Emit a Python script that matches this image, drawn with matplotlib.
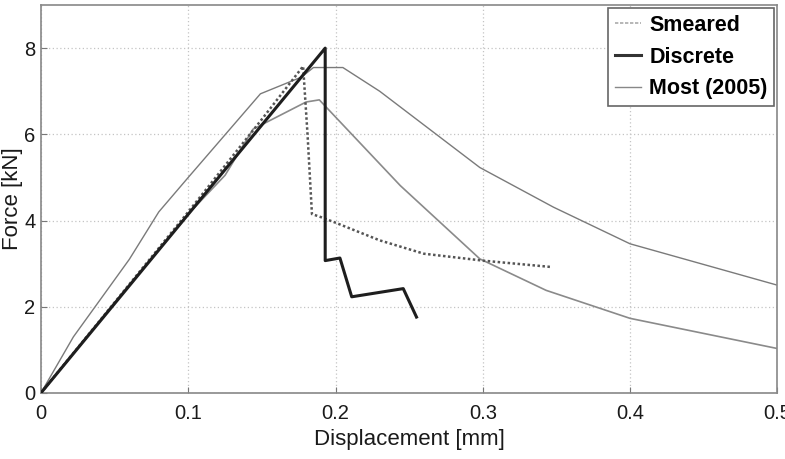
import matplotlib.pyplot as plt

# ── data ──────────────────────────────────────────────────────────────────────
smeared_x = [0.0, 0.05, 0.10, 0.15, 0.178, 0.181, 0.184, 0.19, 0.20, 0.23, 0.26, 0.30, 0.347]
smeared_y = [0.0, 2.10, 4.20, 6.35, 7.58, 6.00, 4.15, 4.08, 3.95, 3.54, 3.23, 3.07, 2.92]

discrete_x = [0.0, 0.193, 0.193, 0.203, 0.211, 0.246, 0.255]
discrete_y = [0.0, 8.00, 3.07, 3.13, 2.23, 2.42, 1.76]

most_hi_x = [0.0, 0.022, 0.06, 0.08, 0.10, 0.149, 0.177, 0.185, 0.205, 0.23, 0.298, 0.348, 0.40, 0.50]
most_hi_y = [0.0, 1.30, 3.10, 4.20, 5.00, 6.94, 7.33, 7.55, 7.55, 7.00, 5.23, 4.31, 3.46, 2.50]

most_lo_x = [0.0, 0.05, 0.10, 0.125, 0.144, 0.180, 0.189, 0.244, 0.298, 0.343, 0.40, 0.50]
most_lo_y = [0.0, 2.10, 4.15, 5.05, 6.12, 6.75, 6.80, 4.81, 3.11, 2.38, 1.73, 1.03]

xticks = [0, 0.1, 0.2, 0.3, 0.4, 0.5]
xtick_labels = ["0", "0.1", "0.2", "0.3", "0.4", "0.5"]
yticks = [0, 2, 4, 6, 8]

plt.rcParams['font.family'] = ['Liberation Sans', 'DejaVu Sans']

fig = plt.figure(figsize=(7.85, 4.59), dpi=100)
ax = fig.add_axes([0.0522, 0.144, 0.938, 0.845])

ax.plot(most_hi_x, most_hi_y, color="#7a7a7a", lw=1.0, zorder=2)
ax.plot(most_lo_x, most_lo_y, color="#8a8a8a", lw=1.2, zorder=2)
ax.plot(smeared_x, smeared_y, color="#555555", lw=1.8, ls=(0, (1, 1)), zorder=3)
ax.plot(discrete_x, discrete_y, color="#1e1e1e", lw=2.2, zorder=4)

ax.set_xlim(0, 0.5)
ax.set_ylim(0, 9)
ax.set_xticks(xticks)
ax.set_xticklabels(xtick_labels)
ax.set_yticks(yticks)
ax.tick_params(direction="in", length=4, color="#777777", labelsize=14.5,
               labelcolor="#1a1a1a")
ax.tick_params(axis="x", pad=8)
ax.tick_params(axis="y", pad=4)
for s in ax.spines.values():
    s.set_color("#888888")
    s.set_linewidth(1.2)
ax.grid(True, color="#c4c4c4", ls=(0, (1, 2)), lw=0.9)

ax.set_xlabel("Displacement [mm]", fontsize=16, color="#1a1a1a", labelpad=4)
ax.set_ylabel("Force [kN]", fontsize=16, color="#1a1a1a", labelpad=1)

handles = [
    plt.Line2D([], [], color="#aaaaaa", lw=1.2, ls=(0, (2, 1))),
    plt.Line2D([], [], color="#333333", lw=2.2),
    plt.Line2D([], [], color="#888888", lw=1.0),
]
leg = ax.legend(handles, ["Smeared", "Discrete", "Most (2005)"], loc="upper right",
                prop={"weight": "bold", "size": 15.5}, fancybox=False, framealpha=1,
                edgecolor="#666666", borderaxespad=0.15, handlelength=1.2,
                handletextpad=0.4, labelspacing=0.5, borderpad=0.3)
leg.get_frame().set_linewidth(1.2)

fig.savefig("out.png", dpi=100)
